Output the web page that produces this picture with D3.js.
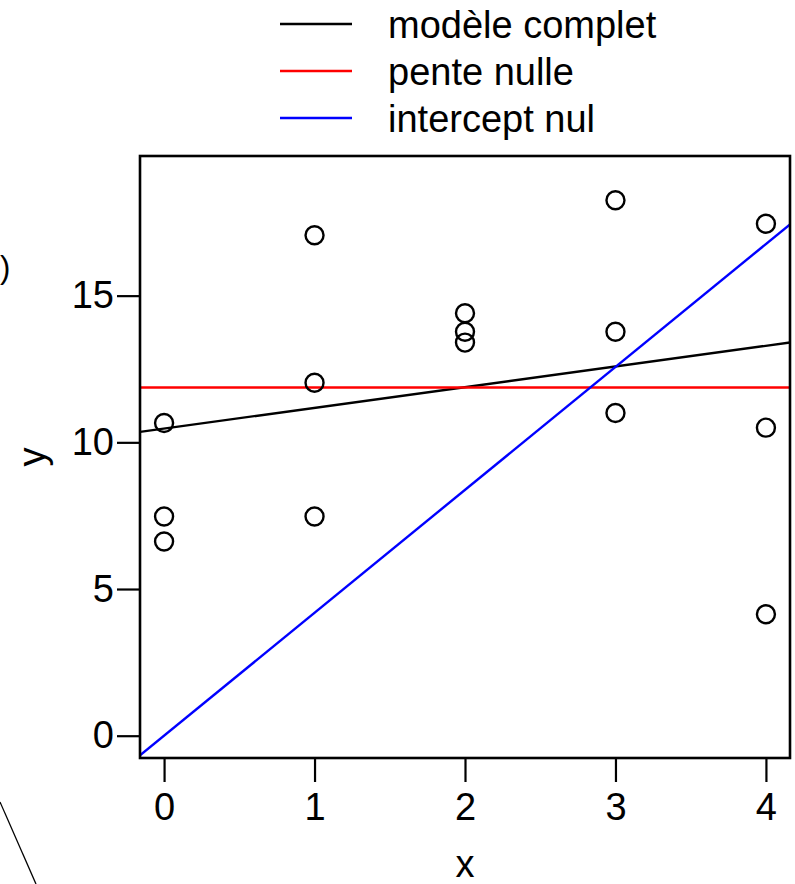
<!DOCTYPE html>
<html>
<head>
<meta charset="utf-8">
<script src="https://cdn.jsdelivr.net/npm/d3@7"></script>
<style>
  body { margin: 0; background: #fff; }
  svg { display: block; font-family: "Liberation Sans", Arial, Helvetica, sans-serif; }
  .axis text { font-size: 38px; fill: #000; }
  .axis line { stroke: #000; stroke-width: 2.2; }
</style>
</head>
<body>
<div id="chart"></div>
<script>
const xs = [0, 0, 0, 1, 1, 1, 2, 2, 2, 3, 3, 3, 4, 4, 4];
const ys = [10.66, 7.47, 6.62, 17.06, 12.03, 7.47, 14.40, 13.77, 13.40, 18.25, 13.77, 11.0, 17.45, 10.5, 4.14];

/* Fitted lines: name, colour, intercept, slope. */
const fitNames = ['modèle complet', 'pente nulle', 'intercept nul'];
const fitColors = ['#000000', '#ff0000', '#0000ff'];
const fitIntercepts = [10.47, 11.87, 0];
const fitSlopes = [0.705, 0, 4.19];

const xTicks = [0, 1, 2, 3, 4];
const yTicks = [0, 5, 10, 15];

const width = 795, height = 884;
const margin = { top: 156, right: 5, bottom: 126, left: 140 };
const plotW = width - margin.left - margin.right;
const plotH = height - margin.top - margin.bottom;

const svg = d3.select('#chart').append('svg')
  .attr('width', width)
  .attr('height', height);

// leftover bits of the neighbouring panel
svg.append('text')
  .attr('x', 0)
  .attr('y', 278)
  .style('font-size', '31px')
  .text(')');
svg.append('line')
  .attr('x1', 0).attr('y1', 802)
  .attr('x2', 36).attr('y2', 884)
  .attr('stroke', '#000')
  .attr('stroke-width', 1.3);

const x = d3.scaleLinear().domain([-0.16, 4.16]).range([0, plotW]);
const y = d3.scaleLinear().domain([-0.76, 19.76]).range([plotH, 0]);

const plot = svg.append('g')
  .attr('transform', `translate(${margin.left}, ${margin.top})`);

plot.append('defs').append('clipPath')
  .attr('id', 'clip')
  .append('rect')
  .attr('width', plotW)
  .attr('height', plotH);

const xAxis = plot.append('g')
  .attr('class', 'axis')
  .attr('transform', `translate(0, ${plotH})`)
  .call(d3.axisBottom(x).tickValues(xTicks).tickSize(24).tickPadding(11).tickFormat(d3.format('d')));
xAxis.select('.domain').remove();

const yAxis = plot.append('g')
  .attr('class', 'axis')
  .call(d3.axisLeft(y).tickValues(yTicks).tickSize(23).tickPadding(3).tickFormat(d3.format('d')));
yAxis.select('.domain').remove();

// fitted lines, clipped to the plot region
const lines = plot.append('g').attr('clip-path', 'url(#clip)');
lines.selectAll('line')
  .data(fitNames.map((n, i) => ({ color: fitColors[i], a: fitIntercepts[i], b: fitSlopes[i] })))
  .enter()
  .append('line')
  .attr('x1', x(x.domain()[0]))
  .attr('y1', (d) => y(d.a + d.b * x.domain()[0]))
  .attr('x2', x(x.domain()[1]))
  .attr('y2', (d) => y(d.a + d.b * x.domain()[1]))
  .attr('stroke', (d) => d.color)
  .attr('stroke-width', 2.4);

plot.selectAll('.pt')
  .data(xs.map((v, i) => ({ x: v, y: ys[i] })))
  .enter()
  .append('circle')
  .attr('class', 'pt')
  .attr('cx', (d) => x(d.x))
  .attr('cy', (d) => y(d.y))
  .attr('r', 9)
  .attr('fill', 'none')
  .attr('stroke', '#000')
  .attr('stroke-width', 2.4);

plot.append('rect')
  .attr('width', plotW)
  .attr('height', plotH)
  .attr('fill', 'none')
  .attr('stroke', '#000')
  .attr('stroke-width', 2.6);

// axis titles
svg.append('text')
  .attr('x', margin.left + plotW / 2)
  .attr('y', 877)
  .attr('text-anchor', 'middle')
  .style('font-size', '38px')
  .text('x');
svg.append('text')
  .attr('transform', `translate(45, ${margin.top + plotH / 2}) rotate(-90)`)
  .attr('text-anchor', 'middle')
  .style('font-size', '38px')
  .text('y');

// legend above the plot
const legend = svg.append('g');
const rows = legend.selectAll('g')
  .data(fitNames)
  .enter()
  .append('g')
  .attr('transform', (d, i) => `translate(0, ${24 + i * 47})`);
rows.append('line')
  .attr('x1', 280).attr('x2', 352)
  .attr('stroke', (d, i) => fitColors[i])
  .attr('stroke-width', 2.5);
rows.append('text')
  .attr('x', 388)
  .attr('dy', '0.36em')
  .style('font-size', '38px')
  .text((d) => d);
</script>
</body>
</html>
